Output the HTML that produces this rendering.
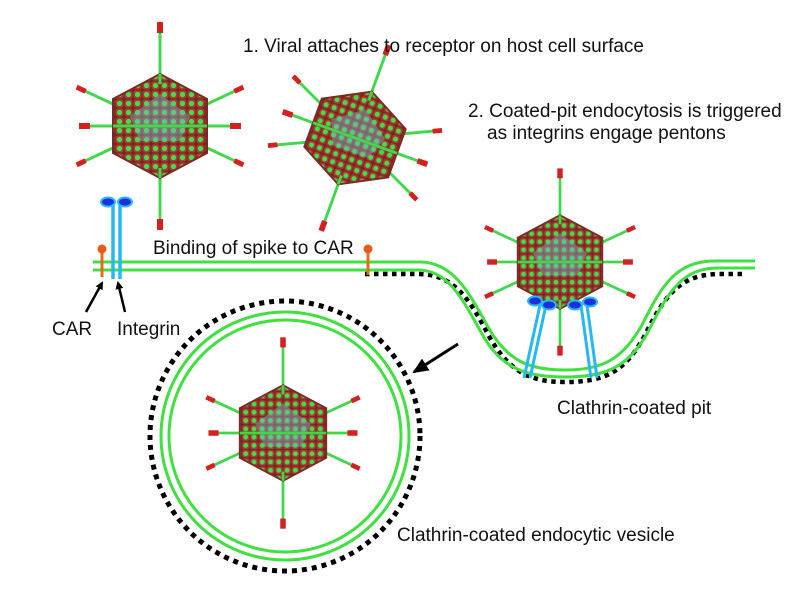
<!DOCTYPE html>
<html><head><meta charset="utf-8"><style>
html,body{margin:0;padding:0;background:#fff;}
svg{display:block;}
text{font-family:"Liberation Sans",Arial,sans-serif;fill:#111;}
</style></head><body>
<svg width="811" height="601" viewBox="0 0 811 601" xmlns="http://www.w3.org/2000/svg">
<defs>
<pattern id="cap" width="9" height="9" patternUnits="userSpaceOnUse">
<rect width="9" height="9" fill="#7a2420"/>
<rect x="0.5" y="0.5" width="8" height="8" rx="2.5" fill="#a83c34"/>
<circle cx="4.5" cy="4.5" r="2.6" fill="#3de04a"/>
</pattern>
<g id="spike">
<line x1="0" y1="0" x2="0" y2="-100" stroke="#3fd84a" stroke-width="3"/>
<rect x="-3" y="-104" width="6" height="11" fill="#d42020"/>
</g>
<g id="spikeH">
<line x1="0" y1="0" x2="75" y2="0" stroke="#3fd84a" stroke-width="3"/>
<rect x="70" y="-3" width="11" height="6" fill="#d42020"/>
</g>
<g id="spikeD">
<line x1="0" y1="0" x2="88" y2="0" stroke="#3fd84a" stroke-width="3"/>
<rect x="82" y="-2.5" width="10" height="5" fill="#d42020"/>
</g>
<g id="virus">
<use href="#spike"/>
<use href="#spike" transform="rotate(180)"/>
<use href="#spikeH"/>
<use href="#spikeH" transform="rotate(180)"/>
<use href="#spikeD" transform="rotate(-25)"/>
<use href="#spikeD" transform="rotate(25)"/>
<use href="#spikeD" transform="rotate(155)"/>
<use href="#spikeD" transform="rotate(205)"/>
<polygon points="0,-52 47,-27 47,27 0,52 -47,27 -47,-27" fill="url(#cap)" stroke="#7a2a22" stroke-width="2"/>
<polygon points="-30,-10 0,-32 30,-10 20,15 -20,15" fill="#6fb8c4" opacity="0.45"/>
<line x1="-47" y1="0" x2="47" y2="0" stroke="#3fd84a" stroke-width="3"/>
<line x1="0" y1="-52" x2="0" y2="-42" stroke="#3fd84a" stroke-width="3"/>
<line x1="0" y1="52" x2="0" y2="42" stroke="#3fd84a" stroke-width="3"/>
</g>
<marker id="ah" markerWidth="8" markerHeight="8" refX="6" refY="4" orient="auto" markerUnits="userSpaceOnUse">
<path d="M0,0 L8,4 L0,8 z" fill="#000"/>
</marker>
<marker id="ah2" markerWidth="16" markerHeight="14" refX="14" refY="7" orient="auto" markerUnits="userSpaceOnUse">
<path d="M0,0 L16,7 L0,14 z" fill="#000"/>
</marker>
</defs>

<path d="M365,274 L418,274 C455,274 470,300 490,338 C510,372 530,382 565,382 C605,382 625,372 645,335 C665,295 680,274 720,274 L745,274" fill="none" stroke="#000" stroke-width="4.5" stroke-dasharray="4.5,4.5"/>
<path d="M93,262 L420,262 C452,262 468,290 488,327 C508,362 530,370 565,370 C602,370 622,360 642,325 C662,285 676,261 715,261 L755,261" fill="none" stroke="#3fe03f" stroke-width="3"/>
<path d="M93,270 L418,270 C448,270 462,298 482,334 C502,370 528,377 565,377 C605,377 628,368 648,332 C668,292 682,268 718,268 L755,268" fill="none" stroke="#3fe03f" stroke-width="3"/>

<circle cx="285" cy="436" r="135" fill="none" stroke="#000" stroke-width="5" stroke-dasharray="5,5"/>
<circle cx="285" cy="436" r="124" fill="none" stroke="#3fe03f" stroke-width="3"/>
<circle cx="285" cy="436" r="116" fill="none" stroke="#3fe03f" stroke-width="3"/>

<use href="#virus" transform="translate(160,126)"/>
<use href="#virus" transform="translate(355,138) rotate(20) scale(0.95)"/>
<use href="#virus" transform="translate(560,262) scale(0.9)"/>
<use href="#virus" transform="translate(283,433) scale(0.92)"/>

<line x1="102" y1="250" x2="102" y2="277" stroke="#e07018" stroke-width="3"/>
<circle cx="102" cy="249" r="4.5" fill="#e85a1a"/>
<line x1="113" y1="200" x2="113" y2="279" stroke="#28b8f0" stroke-width="3.5"/>
<line x1="120" y1="200" x2="120" y2="279" stroke="#28b8f0" stroke-width="3.5"/>
<ellipse cx="108" cy="202" rx="7" ry="4.5" fill="#1830e0" stroke="#28b8f0" stroke-width="2"/>
<ellipse cx="125" cy="202" rx="7" ry="4.5" fill="#1830e0" stroke="#28b8f0" stroke-width="2"/>
<line x1="368" y1="250" x2="368" y2="275" stroke="#e07018" stroke-width="3"/>
<circle cx="368" cy="249" r="4.5" fill="#e85a1a"/>

<g stroke="#28b8f0" stroke-width="3">
<line x1="540" y1="305" x2="524" y2="378"/><line x1="546" y1="305" x2="530" y2="378"/>
<line x1="581" y1="305" x2="591" y2="378"/><line x1="587" y1="305" x2="597" y2="378"/>
</g>
<g fill="#1830e0" stroke="#28b8f0" stroke-width="2">
<ellipse cx="535" cy="301" rx="7" ry="4.5"/><ellipse cx="549" cy="305" rx="7" ry="4.5"/>
<ellipse cx="575" cy="305" rx="7" ry="4.5"/><ellipse cx="590" cy="302" rx="7" ry="4.5"/>
</g>

<line x1="86" y1="312" x2="102" y2="283" stroke="#000" stroke-width="2.5" marker-end="url(#ah)"/>
<line x1="125" y1="312" x2="118" y2="283" stroke="#000" stroke-width="2.5" marker-end="url(#ah)"/>
<line x1="458" y1="344" x2="414" y2="372" stroke="#000" stroke-width="3" marker-end="url(#ah2)"/>

<text x="243" y="52" font-size="19">1. Viral attaches to receptor on host cell surface</text>
<text x="468" y="117" font-size="19">2. Coated-pit endocytosis is triggered</text>
<text x="487" y="139" font-size="19">as integrins engage pentons</text>
<text x="153" y="254" font-size="19">Binding of spike to CAR</text>
<text x="52" y="335" font-size="19">CAR</text>
<text x="117" y="335" font-size="19">Integrin</text>
<text x="557" y="414" font-size="19">Clathrin-coated pit</text>
<text x="397" y="541" font-size="19">Clathrin-coated endocytic vesicle</text>
</svg>
</body></html>
